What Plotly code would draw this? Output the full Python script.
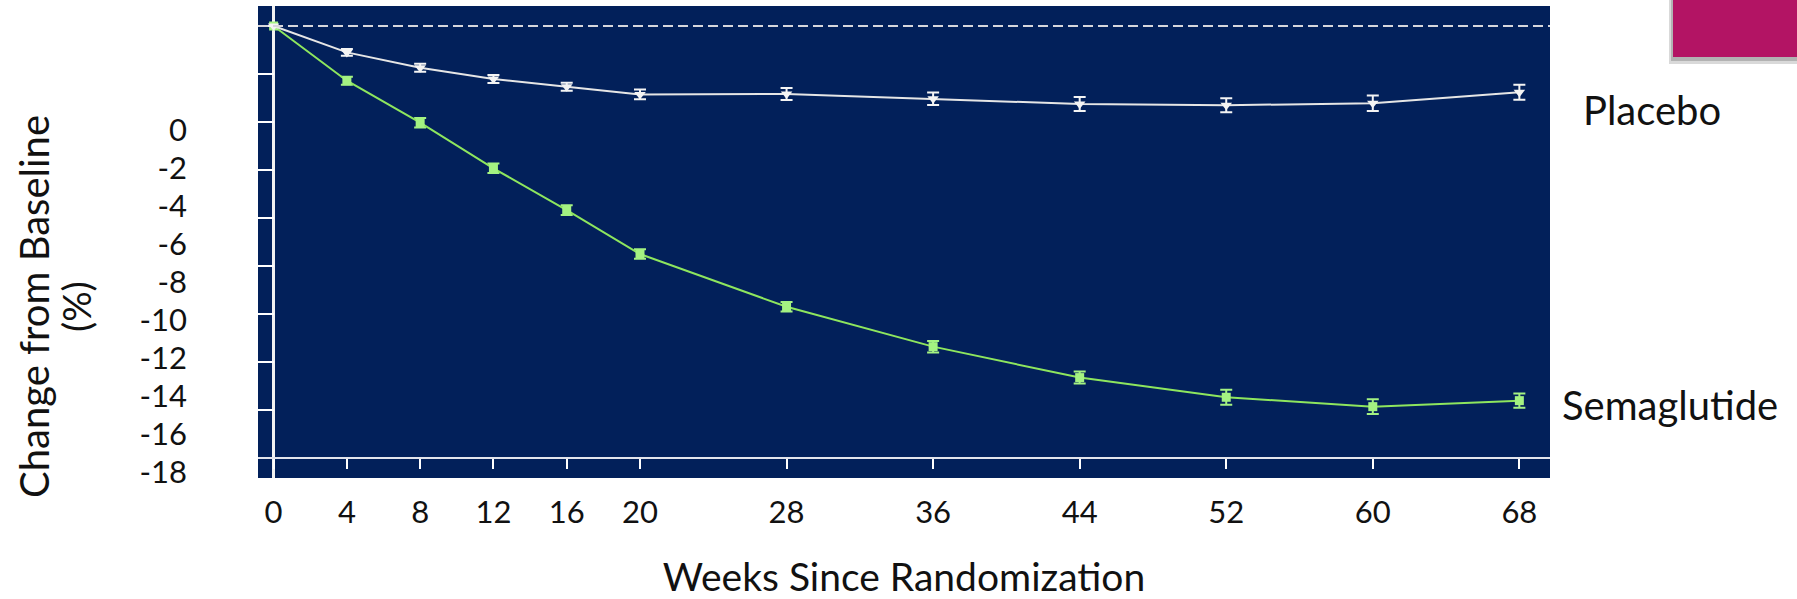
import plotly.graph_objects as go

# ---------------- data ----------------
weeks = [0, 4, 8, 12, 16, 20, 28, 36, 44, 52, 60, 68]
semaglutide = [0.0, -2.28, -4.03, -5.93, -7.67, -9.50, -11.70, -13.36, -14.65, -15.47, -15.86, -15.61]
semaglutide_err = [0.0, 0.17, 0.20, 0.20, 0.20, 0.20, 0.20, 0.24, 0.25, 0.31, 0.31, 0.30]
placebo = [0.0, -1.10, -1.74, -2.21, -2.53, -2.85, -2.83, -3.03, -3.25, -3.30, -3.22, -2.76]
placebo_err = [0.0, 0.14, 0.17, 0.17, 0.17, 0.20, 0.25, 0.26, 0.29, 0.29, 0.32, 0.31]
inner_ytick_vals = [-2, -4, -6, -8, -10, -12, -14, -16]
ytick_label_vals = [0, -2, -4, -6, -8, -10, -12, -14, -16, -18]
ytick_label_text = ["0", "-2", "-4", "-6", "-8", "-10", "-12", "-14", "-16", "-18"]
xtick_text = [str(w) for w in weeks]
series_names = ["Semaglutide", "Placebo"]

# ---------------- layout geometry (pixels) ----------------
W, H = 1797, 599
PL, PR, PT, PB = 258, 1550, 6, 478          # dark plot panel
PH = PB - PT
X0_PX, PX_PER_WEEK = 273.6, 18.32           # week 0 position and scale
Y0_PX, PX_PER_UNIT = 26, 24                 # value 0 position and scale
LAB0_PX, LAB_PX_PER_UNIT = 130, 19          # offset tick-label column

x_range = [(PL - X0_PX) / PX_PER_WEEK, (PR - X0_PX) / PX_PER_WEEK]
y_range = [-(PB - Y0_PX) / PX_PER_UNIT, (Y0_PX - PT) / PX_PER_UNIT]
y2_range = [-(PB - LAB0_PX) / LAB_PX_PER_UNIT, (LAB0_PX - PT) / LAB_PX_PER_UNIT]

def px_to_paper_y(py):
    return (PB - py) / PH

def px_to_paper_x(px):
    return px / PR

NAVY = "#02205A"
GREEN_LINE = "#8EE65E"
GREEN_MARK = "#A4F282"
WHITE_LINE = "#E6E6E6"
FONT = "Lato"
TXT = "#111111"

fig = go.Figure()

fig.add_trace(go.Scatter(
    x=weeks, y=semaglutide, name=series_names[0], mode="lines+markers",
    line=dict(color=GREEN_LINE, width=2),
    marker=dict(symbol="square", size=9, color=GREEN_MARK),
    error_y=dict(type="data", array=semaglutide_err, color=GREEN_MARK, thickness=2, width=6),
    showlegend=False, hoverinfo="x+y",
))
fig.add_trace(go.Scatter(
    x=weeks, y=placebo, name=series_names[1], mode="lines+markers",
    line=dict(color=WHITE_LINE, width=2),
    marker=dict(symbol="triangle-down", size=10, color="#F4F4F4"),
    error_y=dict(type="data", array=placebo_err, color="#F4F4F4", thickness=2, width=6),
    showlegend=False, hoverinfo="x+y",
))
# carrier for the offset tick-label column
fig.add_trace(go.Scatter(
    x=[weeks[0]] * len(ytick_label_vals), y=ytick_label_vals, yaxis="y2",
    mode="markers", marker=dict(opacity=0), showlegend=False, hoverinfo="skip",
))

# baseline (dashed) and lower frame line
fig.add_hline(y=0, line=dict(color="#D6D6DC", width=2, dash="10px,5px"))
fig.add_hline(y=ytick_label_vals[-1], line=dict(color="#E2E4EC", width=2))

# slide decoration (magenta box with shadow)
fig.add_shape(type="rect", xref="paper", yref="paper",
              x0=px_to_paper_x(1669), x1=px_to_paper_x(W + 5),
              y0=px_to_paper_y(64), y1=px_to_paper_y(-5),
              fillcolor="rgba(0,0,0,0.15)", line=dict(width=0), layer="below")
fig.add_shape(type="rect", xref="paper", yref="paper",
              x0=px_to_paper_x(1671), x1=px_to_paper_x(W + 5),
              y0=px_to_paper_y(61), y1=px_to_paper_y(-5),
              fillcolor="rgba(0,0,0,0.18)", line=dict(width=0), layer="below")
fig.add_shape(type="rect", xref="paper", yref="paper",
              x0=px_to_paper_x(1673), x1=px_to_paper_x(W + 5),
              y0=px_to_paper_y(57), y1=px_to_paper_y(-5),
              fillcolor="#B31464", line=dict(width=0), layer="below")

# series labels, anchored to each series' last point
fig.add_annotation(x=weeks[-1], y=placebo[-1], text=series_names[1],
                   xanchor="left", yanchor="middle", xshift=62, yshift=-18,
                   showarrow=False, font=dict(family=FONT, size=40, color=TXT))
fig.add_annotation(x=weeks[-1], y=semaglutide[-1], text=series_names[0],
                   xanchor="left", yanchor="middle", xshift=41, yshift=-4,
                   showarrow=False, font=dict(family=FONT, size=40, color=TXT))

# y-axis title (two lines)
fig.add_annotation(xref="paper", yref="paper", x=px_to_paper_x(34), y=px_to_paper_y(307),
                   text="Change from Baseline", textangle=-90, showarrow=False,
                   xanchor="center", yanchor="middle",
                   font=dict(family=FONT, size=40, color=TXT))
fig.add_annotation(xref="paper", yref="paper", x=px_to_paper_x(76), y=px_to_paper_y(307),
                   text="(%)", textangle=-90, showarrow=False,
                   xanchor="center", yanchor="middle",
                   font=dict(family=FONT, size=38, color=TXT))

fig.update_layout(
    width=W, height=H,
    margin=dict(l=0, r=W - PR, t=PT, b=H - PB, pad=0),
    paper_bgcolor="white", plot_bgcolor=NAVY,
    font=dict(family=FONT, color=TXT),
    xaxis=dict(
        domain=[PL / PR, 1], range=x_range, anchor="free",
        position=(PB - 469) / PH,
        tickmode="array", tickvals=weeks, ticktext=xtick_text,
        ticks="inside", ticklen=11, tickwidth=2, tickcolor="white",
        tickfont=dict(family=FONT, size=31, color=TXT),
        ticklabelstandoff=22,
        showgrid=False, showline=False,
        zeroline=True, zerolinecolor="#F2F2F2", zerolinewidth=3,
        automargin=False,
        title=dict(text="Weeks Since Randomization",
                   font=dict(family=FONT, size=39, color=TXT), standoff=34),
    ),
    yaxis=dict(
        domain=[0, 1], range=y_range, anchor="x",
        tickmode="array", tickvals=inner_ytick_vals,
        ticks="inside", ticklen=16, tickwidth=2, tickcolor="white",
        showticklabels=False, showgrid=False, zeroline=False, showline=False,
        automargin=False,
    ),
    yaxis2=dict(
        overlaying="y", anchor="free", side="left", position=187 / PR,
        range=y2_range, tickmode="array", tickvals=ytick_label_vals, ticktext=ytick_label_text,
        ticks="", showgrid=False, zeroline=False, showline=False,
        tickfont=dict(family=FONT, size=31, color=TXT),
        automargin=False,
    ),
)

fig.write_html("out.html", config={"displayModeBar": False},
               post_script="document.body.style.margin='0px';")
